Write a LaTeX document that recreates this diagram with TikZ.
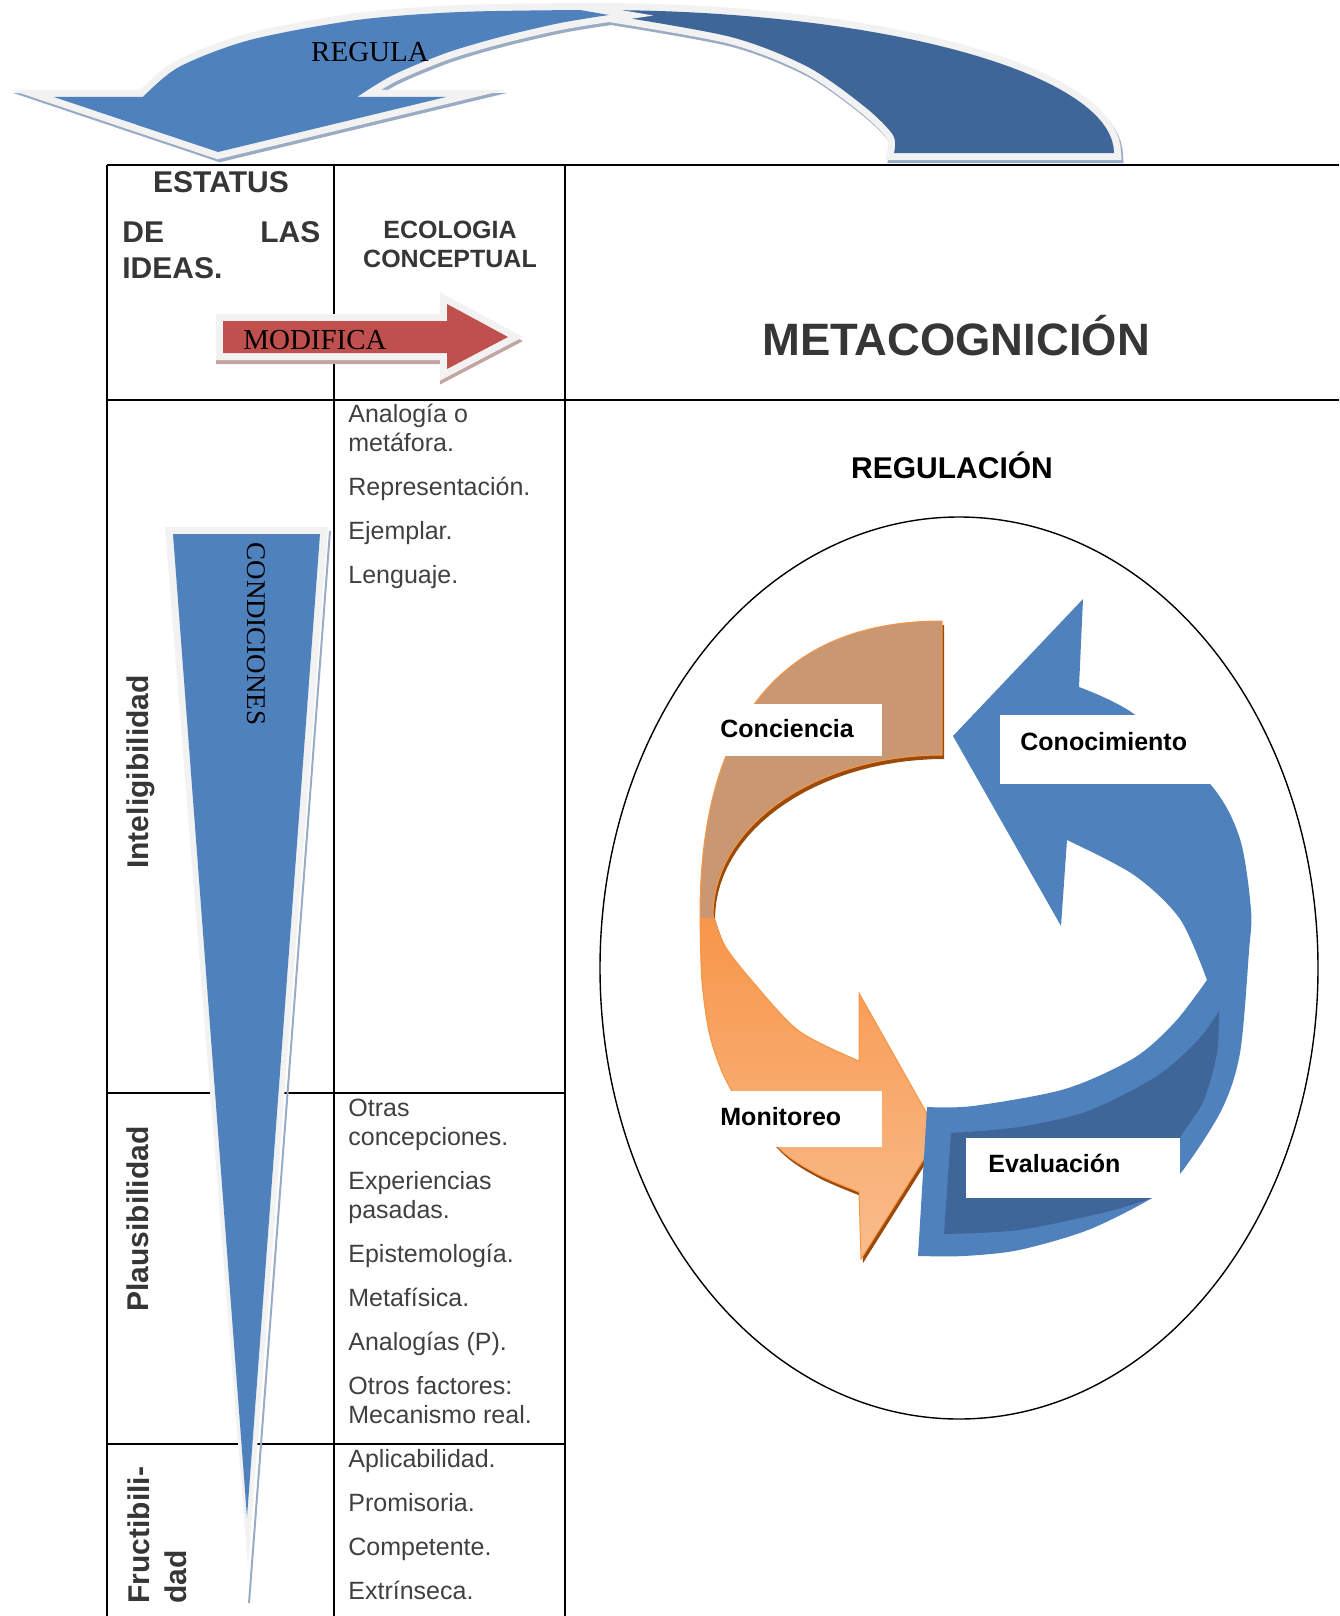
\documentclass[tikz,border=0pt]{standalone}
\usepackage{fontspec}
\setmainfont{Liberation Sans}
\newfontfamily\timesfont{Liberation Serif}
\usetikzlibrary{positioning}
\definecolor{regblue}{HTML}{4F81BD}
\definecolor{regdarkblue}{HTML}{3E6699}
\definecolor{glowgray}{HTML}{F2F2F2}
\definecolor{shadowblue}{HTML}{9AABC4}
\definecolor{modred}{HTML}{C0504D}
\definecolor{modshadow}{HTML}{C4A3A3}
\definecolor{concitan}{HTML}{C99873}
\definecolor{monitop}{HTML}{F7964A}
\definecolor{monibot}{HTML}{F9BE8F}
\definecolor{moniedge}{HTML}{F79646}
\definecolor{moniedgedark}{HTML}{9A4A0A}
\definecolor{txtgray}{HTML}{404040}
\definecolor{headgray}{HTML}{363636}
\newcommand\fsz[2]{\fontsize{#1}{#2}\selectfont}
\tikzset{
grid line/.style={line width=1.4pt},
glow/.style={preaction={draw=glowgray, line width=7pt, line join=miter}},
cell text/.style={inner sep=0pt, anchor=base west, text=txtgray, font=\fsz{12.5}{14.5}},
head text/.style={inner sep=0pt, text=headgray, font=\bfseries\fsz{15}{18}},
row label/.style={inner sep=0pt, rotate=90, text=headgray, font=\bfseries\fsz{15}{18}},
serif text/.style={inner sep=0pt, font=\timesfont\fsz{14.5}{17}},
phase tag/.style={fill=white, inner ysep=0pt, align=left, anchor=base west, font=\bfseries\fsz{12.5}{14}},
}
% shapes (x,y in pixels, y downwards)
\newcommand\regdark{plot[domain=-97:0, samples=40] ({598+516*cos(\x)},{153+143*sin(\x)}) -- (894,153) -- plot[smooth] coordinates {(894,153) (893,135) (865,107) (808,67) (731,37) (609,15)} -- cycle}
\newcommand\reglight{plot[smooth] coordinates {(143,97) (179,67) (250,40) (357,20) (460,12) (580,10)} -- (609,15) -- plot[smooth] coordinates {(609,15) (560,23) (500,37) (446,53) (393,75) (357,97)} -- (446,97) -- (218,152) -- (54,97) -- cycle}
\newcommand\modpath{(223,321) -- (447,321) -- (447,304) -- (508,337) -- (447,369) -- (447,353) -- (223,353) -- cycle}
\newcommand\orangepath{(942,621) .. controls (766,621) and (700,742) .. (700,915) -- plot[smooth] coordinates {(700,915) (702,982) (711,1040) (732,1091) (780,1149) (817,1174) (859,1192)} -- (861,1259) -- (939,1135) -- (859,993) -- (859,1061) -- plot[smooth] coordinates {(859,1061) (799,1031) (753,982) (725,946) (713,915)} -- plot[domain=-180:-90, samples=30] ({942+229*cos(\x)},{915+160*sin(\x)}) -- cycle}
\newcommand\bluepath{(1079,687) -- plot[smooth] coordinates {(1079,687) (1134,714) (1211,785) (1240,839) (1251,910) (1249,951) (1240,1053) (1221,1111) (1180,1174) (1152,1198) (1088,1230) (1019,1250) (964,1256) (918,1256)} -- (927,1107) -- plot[smooth] coordinates {(927,1107) (973,1106) (1065,1089) (1134,1058) (1175,1022) (1207,980)} -- plot[smooth] coordinates {(1207,980) (1180,919) (1134,875) (1067,840)} -- (1061,926) -- (953,736) -- (1083,599) -- cycle}

\begin{document}
\begin{tikzpicture}[x=0.5pt, y=-0.5pt]
\useasboundingbox (0,0) rectangle (1339,1616);

% table
\draw[grid line] (107,165) -- (1339,165) (107,400) -- (1339,400)
  (107,1093) -- (565,1093) (107,1444) -- (565,1444)
  (107,165) -- (107,1616) (334,165) -- (334,1616) (565,165) -- (565,1616);

% condiciones wedge
\fill[glowgray] (165,527) -- (328,527) -- (248,1567) -- cycle;
\draw[shadowblue, line width=1pt] (330,531) -- (249,1603);
\fill[regblue] (173,534) -- (320,534) -- (247,1517) -- cycle;
\node[serif text, font=\timesfont\fsz{13.5}{16}, rotate=-90, anchor=base] (condiciones) at (247,634) {CONDICIONES};

% regula arrow
\draw[shadowblue, line width=7pt, line join=miter, shift={(2,3)}] \regdark;
\draw[shadowblue, line width=7pt, line join=miter, shift={(2,3)}] \reglight;
\path[fill=regdarkblue, glow] \regdark;
\path[fill=regblue, glow] \reglight;
\node[serif text, anchor=base] (regula) at (370,62) {REGULA};

% modifica arrow
\draw[modshadow, line width=7pt, line join=miter, shift={(0,4)}] \modpath;
\path[fill=modred, glow] \modpath;
\node[serif text, anchor=base] (modifica) at (315,349) {MODIFICA};

% headers
\node[head text, anchor=base] (estatus) at (221,192) {ESTATUS};
\node[head text, text width=99pt, align=left, anchor=base west] (delas) at (122,242) {DE\hfill LAS};
\node[head text, below=18pt of delas.base west, anchor=base west] (ideas) {IDEAS.};
\node[head text, font=\bfseries\fsz{12.5}{14.5}, anchor=base] (ecologia) at (450,238) {ECOLOGIA};
\node[head text, font=\bfseries\fsz{12.5}{14.5}, below=14.5pt of ecologia.base, anchor=base] (conceptual) {CONCEPTUAL};
\node[head text, font=\bfseries\fsz{22.7}{26}, anchor=base] (metacog) at (956,355) {METACOGNICIÓN};

% row labels
\node[row label, anchor=base] (intel) at (148,772) {Inteligibilidad};
\node[row label, anchor=base] (plaus) at (148,1219) {Plausibilidad};
\node[row label, anchor=base west] (fructi) at (149,1604) {Fructibili-};
\node[row label, right=18.5pt of fructi.base west, anchor=base west] (dad) {dad};

% conditions
\node[cell text] (analogia) at (348,422) {Analogía o};
\node[cell text, below=14.5pt of analogia.base west, anchor=base west] (metafora) {metáfora.};
\node[cell text, below=22pt of metafora.base west, anchor=base west] (repres) {Representación.};
\node[cell text, below=22pt of repres.base west, anchor=base west] (ejemplar) {Ejemplar.};
\node[cell text, below=22pt of ejemplar.base west, anchor=base west] (lenguaje) {Lenguaje.};

\node[cell text] (otras) at (348,1116) {Otras};
\node[cell text, below=14.5pt of otras.base west, anchor=base west] (concep) {concepciones.};
\node[cell text, below=22pt of concep.base west, anchor=base west] (exper) {Experiencias};
\node[cell text, below=14.5pt of exper.base west, anchor=base west] (pasadas) {pasadas.};
\node[cell text, below=22pt of pasadas.base west, anchor=base west] (episte) {Epistemología.};
\node[cell text, below=22pt of episte.base west, anchor=base west] (metafis) {Metafísica.};
\node[cell text, below=22pt of metafis.base west, anchor=base west] (analogp) {Analogías (P).};
\node[cell text, below=22pt of analogp.base west, anchor=base west] (otros) {Otros factores:};
\node[cell text, below=14.5pt of otros.base west, anchor=base west] (mecan) {Mecanismo real.};

\node[cell text] (aplic) at (348,1467) {Aplicabilidad.};
\node[cell text, below=22pt of aplic.base west, anchor=base west] (promis) {Promisoria.};
\node[cell text, below=22pt of promis.base west, anchor=base west] (compet) {Competente.};
\node[cell text, below=22pt of compet.base west, anchor=base west] (extrin) {Extrínseca.};

% regulacion cycle
\node[inner sep=0pt, font=\bfseries\fsz{15}{17}, anchor=base] (regulacion) at (952,478) {REGULACIÓN};
\draw[line width=0.7pt] (959,968) ellipse [x radius=179.5pt, y radius=225.5pt];

\fill[moniedgedark, shift={(2,4)}] \orangepath;
\begin{scope}
\clip \orangepath;
\fill[concitan] (690,600) rectangle (950,918);
\shade[top color=monitop, bottom color=monibot] (690,918) rectangle (950,1270);
\end{scope}
\draw[moniedge, line width=0.5pt] \orangepath;

\fill[regblue] \bluepath;
\fill[regdarkblue] plot[smooth] coordinates {(951,1133) (1019,1127) (1088,1111) (1157,1076) (1198,1040) (1219,1011)}
  -- plot[smooth] coordinates {(1219,1011) (1217,1053) (1203,1102) (1180,1138) (1152,1198)}
  -- plot[smooth] coordinates {(1152,1198) (1106,1212) (1019,1230) (944,1234)} -- cycle;

\node[phase tag, text height=16.5pt, text depth=9.5pt, inner xsep=0pt, text width=81pt] (conciencia) at (720,737) {Conciencia};
\node[phase tag, text height=17.5pt, text depth=17pt, inner xsep=10pt, text width=85.5pt] (conocimiento) at (1000,750) {Conocimiento};
\node[phase tag, text height=17pt, text depth=11pt, inner xsep=0pt, text width=81pt] (monitoreo) at (720,1125) {Monitoreo};
\node[phase tag, text height=17pt, text depth=13pt, inner xsep=11pt, text width=85pt] (evaluacion) at (966,1172) {Evaluación};
\end{tikzpicture}
\end{document}
